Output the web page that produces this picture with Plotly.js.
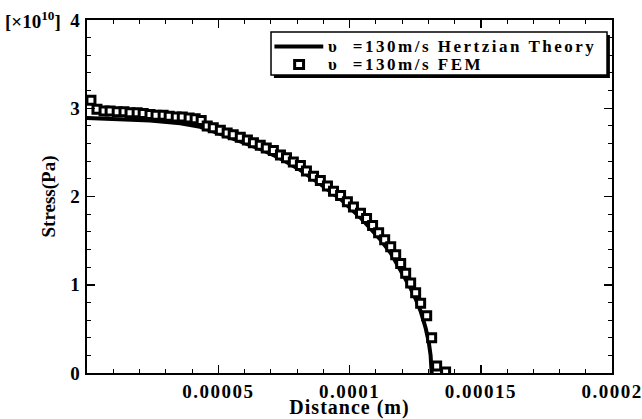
<!DOCTYPE html>
<html>
<head>
<meta charset="utf-8">
<script src="https://cdn.plot.ly/plotly-3.0.1.min.js"></script>
<style>
  html, body { margin: 0; padding: 0; background: #fff; }
  #chart { width: 642px; height: 419px; }
  .annotation-text[style*="font-size: 17px"] { letter-spacing: 2.5px; }
  .xtick text, .ytick text { letter-spacing: 1.5px; }
  .xtitle { letter-spacing: 1px; }
</style>
</head>
<body>
<div id="chart"></div>
<script>
// Hertzian theory curve (distance in m, stress in 1e10 Pa)
const theoryX = [0, 1.26e-5, 2.40e-5, 3.55e-5, 4.31e-5, 5.08e-5, 5.84e-5, 6.60e-5, 7.37e-5, 8.13e-5,
  8.89e-5, 9.66e-5, 1.042e-4, 1.080e-4, 1.118e-4, 1.157e-4, 1.195e-4, 1.233e-4, 1.252e-4, 1.271e-4,
  1.290e-4, 1.302e-4, 1.309e-4, 1.312e-4, 1.313e-4];
const theoryY = [2.89, 2.88, 2.86, 2.83, 2.79, 2.71, 2.63, 2.54, 2.43, 2.30,
  2.14, 1.97, 1.76, 1.64, 1.51, 1.36, 1.17, 0.96, 0.84, 0.70,
  0.51, 0.35, 0.20, 0.08, 0];

// FEM results
const femX = [1.5e-6, 3.8e-6, 6.5e-6, 8.8e-6, 1.15e-5, 1.41e-5, 1.64e-5, 1.91e-5, 2.14e-5, 2.40e-5,
  2.63e-5, 2.90e-5, 3.13e-5, 3.40e-5, 3.63e-5, 3.89e-5, 4.12e-5, 4.35e-5, 4.58e-5, 4.81e-5,
  5.08e-5, 5.34e-5, 5.57e-5, 5.84e-5, 6.11e-5, 6.34e-5, 6.60e-5, 6.83e-5, 7.10e-5, 7.37e-5,
  7.60e-5, 7.86e-5, 8.13e-5, 8.36e-5, 8.63e-5, 8.89e-5, 9.16e-5, 9.39e-5, 9.66e-5, 9.92e-5,
  1.015e-4, 1.042e-4, 1.065e-4, 1.088e-4, 1.111e-4, 1.134e-4, 1.157e-4, 1.176e-4, 1.195e-4, 1.214e-4,
  1.233e-4, 1.252e-4, 1.271e-4, 1.294e-4, 1.313e-4, 1.332e-4, 1.366e-4];
const femY = [3.09, 2.99, 2.97, 2.97, 2.96, 2.96, 2.95, 2.95, 2.94, 2.93,
  2.92, 2.92, 2.91, 2.90, 2.90, 2.89, 2.88, 2.86, 2.80, 2.78,
  2.75, 2.72, 2.70, 2.67, 2.64, 2.61, 2.58, 2.55, 2.52, 2.47,
  2.44, 2.39, 2.35, 2.29, 2.23, 2.18, 2.12, 2.06, 2.01, 1.94,
  1.88, 1.81, 1.75, 1.67, 1.59, 1.51, 1.43, 1.34, 1.24, 1.13,
  1.02, 0.91, 0.79, 0.65, 0.40, 0.08, 0.01];

const seriesNames = ['\u03C5  =130m/s Hertzian Theory', '\u03C5  =130m/s FEM'];
const xTickVals = [0.00005, 0.0001, 0.00015, 0.0002];
const xTickText = ['0.00005', '0.0001', '0.00015', '0.0002'];
const yTickVals = [0, 1, 2, 3, 4];
const yTickText = ['0', '1', '2', '3', '4'];

const serif = 'Liberation Serif, Times New Roman, serif';
const lineStyle = { color: '#000', width: 4 };
const markerStyle = { symbol: 'square', size: 8, color: '#fff', line: { color: '#000', width: 3 } };

const traces = [
  { x: theoryX, y: theoryY, type: 'scatter', mode: 'lines', name: seriesNames[0], line: lineStyle },
  { x: femX, y: femY, type: 'scatter', mode: 'markers', name: seriesNames[1], marker: markerStyle }
];

const axisCommon = {
  showgrid: false, zeroline: false,
  showline: true, linecolor: '#000', linewidth: 2,
  mirror: 'allticks', ticks: 'inside', ticklen: 8, tickwidth: 1.5, tickcolor: '#000',
  ticklabeloverflow: 'allow',
  tickfont: { family: serif, size: 19, color: '#000', weight: 'bold' }
};

// Legend box geometry (paper coordinates)
const lg = { x0: 0.3505, x1: 0.9905, y0: 0.844, y1: 0.966, dx: 0.0055, dy: 0.0085 };
const row1 = 0.925, row2 = 0.874;

const layout = {
  width: 642, height: 419,
  margin: { l: 87, r: 30, t: 20, b: 46 },
  paper_bgcolor: '#fff', plot_bgcolor: '#fff',
  showlegend: false,
  xaxis: Object.assign({}, axisCommon, {
    range: [0, 0.0002], tickmode: 'array', tickvals: xTickVals, ticktext: xTickText,
    minor: { dtick: 0.00001, ticks: 'inside', ticklen: 4, tickwidth: 1, tickcolor: '#000' },
    title: { text: 'Distance (m)', standoff: 4, font: { family: serif, size: 20, color: '#000', weight: 'bold' } }
  }),
  yaxis: Object.assign({}, axisCommon, {
    range: [0, 4], tickmode: 'array', tickvals: yTickVals, ticktext: yTickText,
    minor: { dtick: 0.2, ticks: 'inside', ticklen: 4, tickwidth: 1, tickcolor: '#000' },
    title: { text: 'Stress(Pa)', standoff: 10, font: { family: serif, size: 19, color: '#000', weight: 'bold' } }
  }),
  shapes: [
    { type: 'rect', xref: 'paper', yref: 'paper', x0: lg.x0 + lg.dx, x1: lg.x1 + lg.dx, y0: lg.y0 - lg.dy, y1: lg.y1 - lg.dy,
      fillcolor: '#000', line: { width: 0 } },
    { type: 'rect', xref: 'paper', yref: 'paper', x0: lg.x0, x1: lg.x1, y0: lg.y0, y1: lg.y1,
      fillcolor: '#fff', line: { color: '#000', width: 1.5 } },
    { type: 'line', xref: 'paper', yref: 'paper', x0: 0.357, x1: 0.450, y0: row1, y1: row1, line: lineStyle },
    { type: 'rect', xref: 'paper', yref: 'paper', x0: 0.3955, x1: 0.4125, y0: row2 - 0.0115, y1: row2 + 0.0115,
      fillcolor: '#fff', line: { color: '#000', width: 3 } }
  ],
  annotations: [
    { xref: 'paper', yref: 'paper', x: -0.046, y: 1, xanchor: 'right', yanchor: 'middle',
      text: '[\u00D710<sup>10</sup>]', showarrow: false,
      font: { family: serif, size: 19, color: '#000', weight: 'bold' } },
    { xref: 'paper', yref: 'paper', x: 0.456, y: row1, xanchor: 'left', yanchor: 'middle',
      text: seriesNames[0], showarrow: false,
      font: { family: serif, size: 17, color: '#000', weight: 'bold' } },
    { xref: 'paper', yref: 'paper', x: 0.456, y: row2, xanchor: 'left', yanchor: 'middle',
      text: seriesNames[1], showarrow: false,
      font: { family: serif, size: 17, color: '#000', weight: 'bold' } }
  ]
};

Plotly.newPlot('chart', traces, layout, { staticPlot: true, displayModeBar: false });
</script>
</body>
</html>
